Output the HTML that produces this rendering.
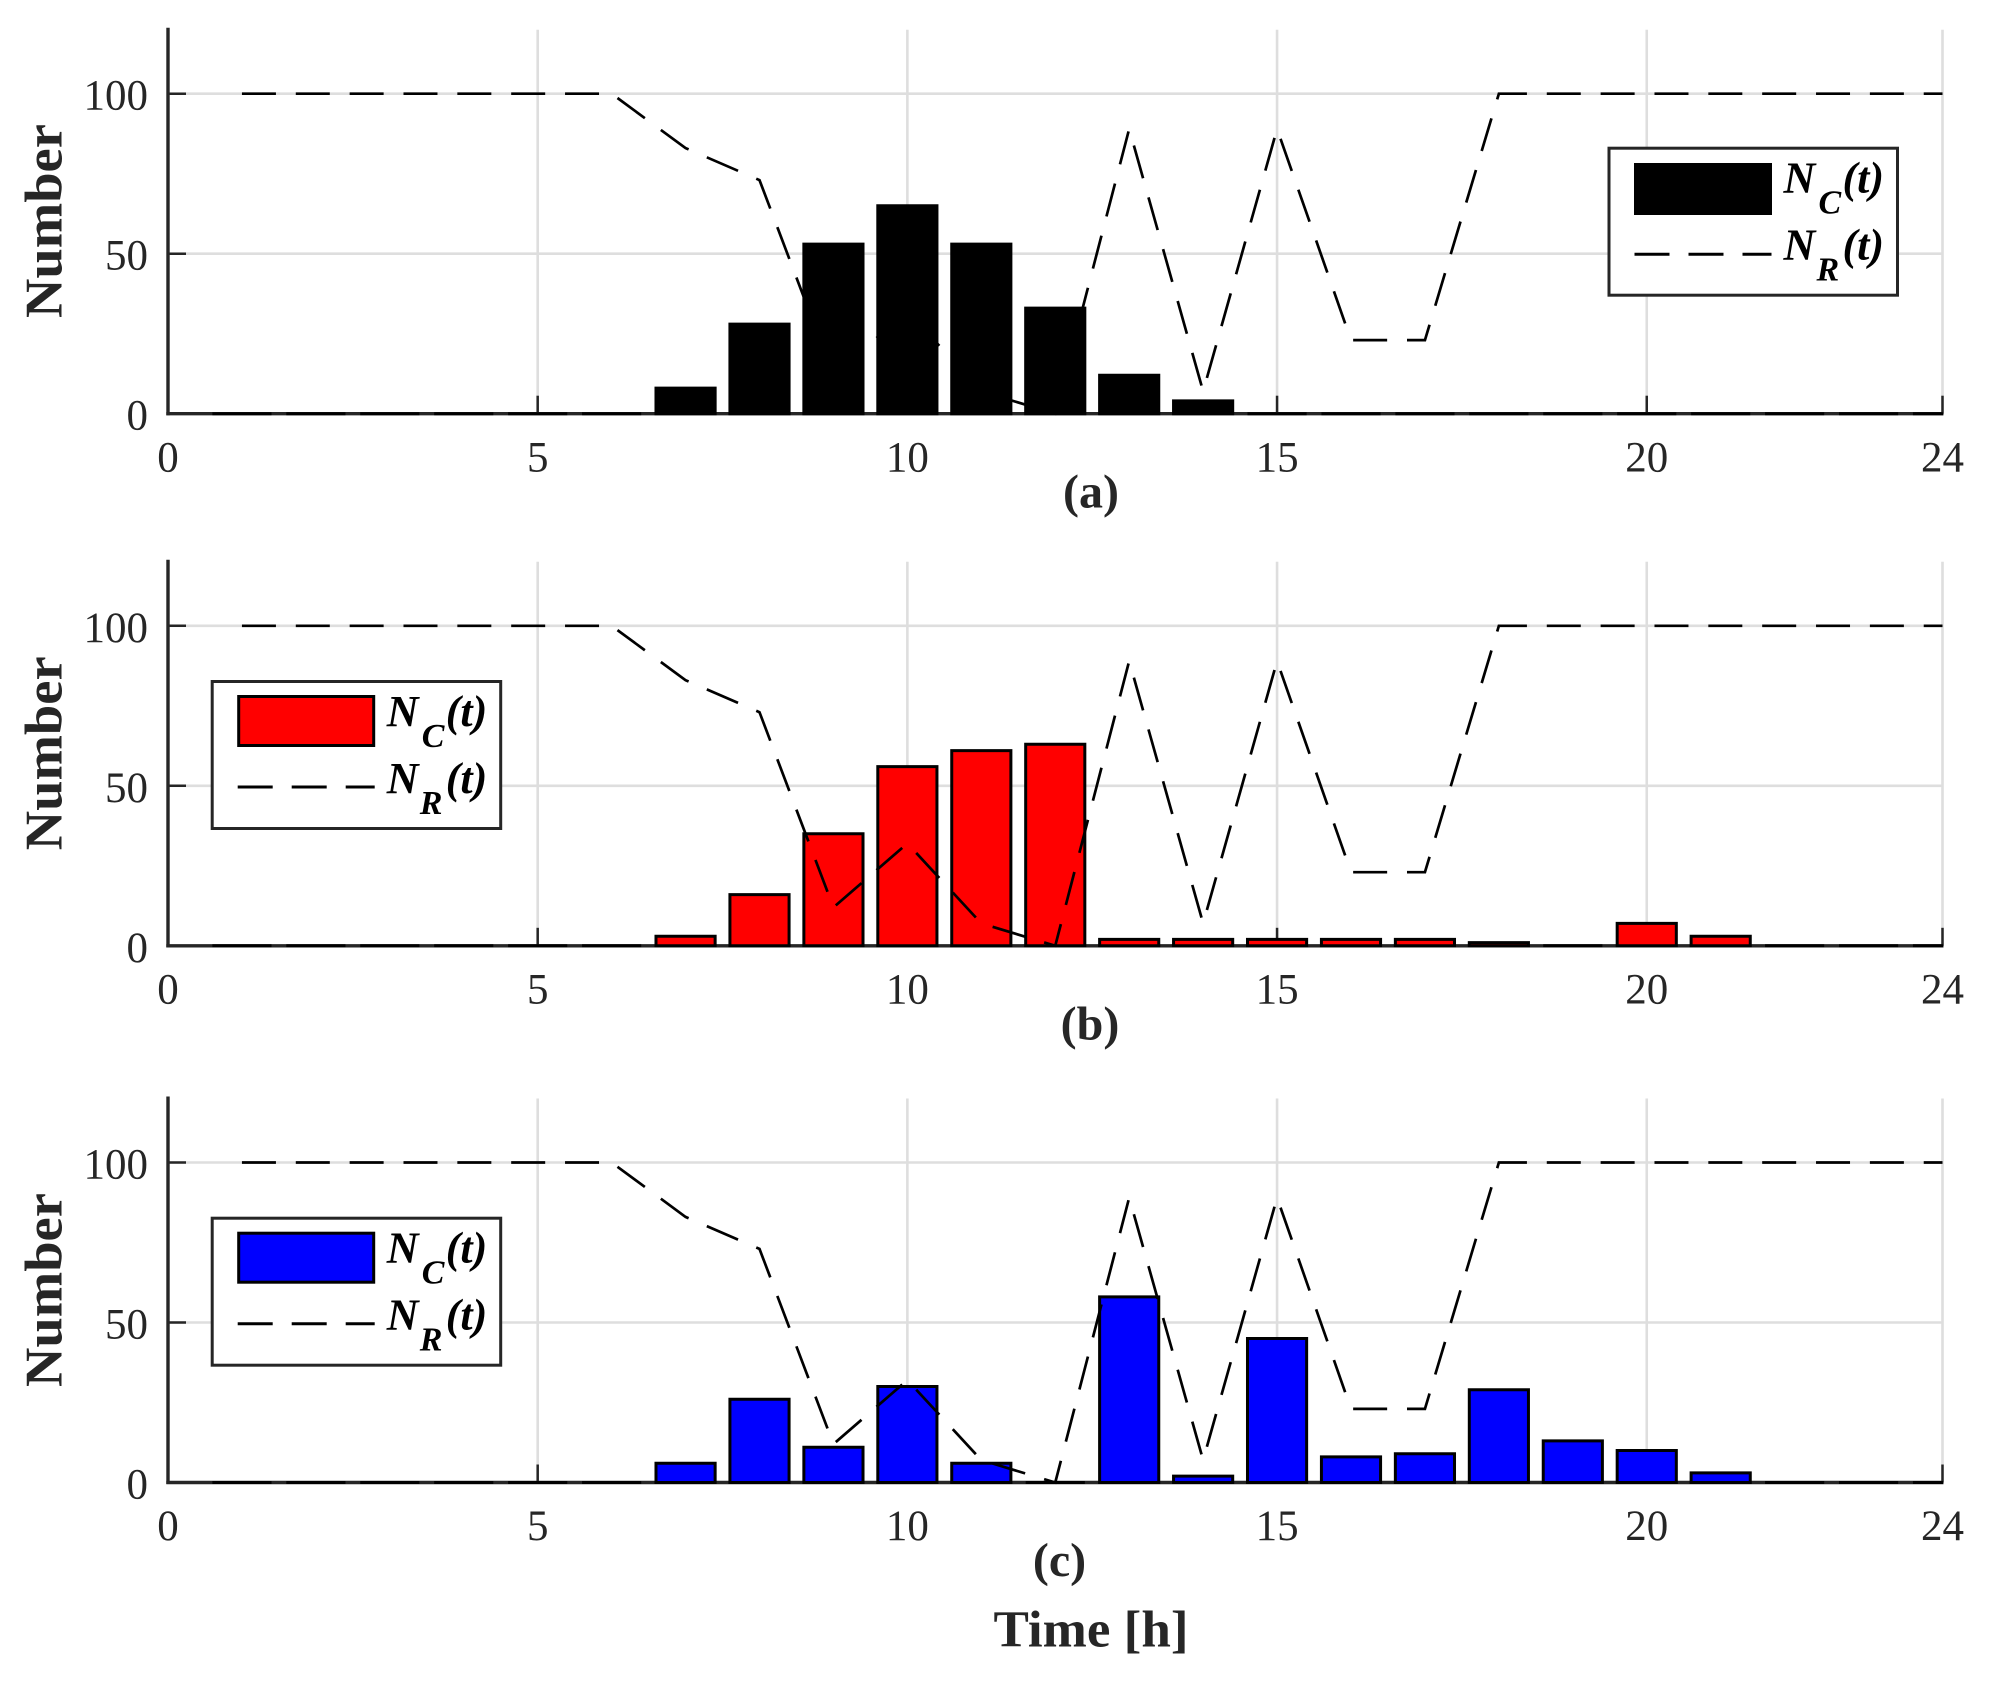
<!DOCTYPE html>
<html lang="en">
<head>
<meta charset="utf-8">
<title>Number of vehicles over time</title>
<style>
html,body{margin:0;padding:0;background:#fff;}
svg{display:block;}
text{font-family:"Liberation Serif","DejaVu Serif",serif;}
.tick{font-size:43px;fill:#262626;}
.ylab{font-size:53px;font-weight:bold;fill:#262626;text-anchor:middle;}
.cap{font-size:48px;font-weight:bold;fill:#262626;text-anchor:middle;}
.leg{font-size:44px;font-weight:bold;font-style:italic;fill:#000;}
.sub{font-size:34px;font-weight:bold;font-style:italic;fill:#000;}
</style>
</head>
<body>
<svg id="figure" xmlns="http://www.w3.org/2000/svg" width="1991" height="1681" viewBox="0 0 1991 1681">
  <rect x="0" y="0" width="1991" height="1681" fill="#fff"/>
  <defs>
    <clipPath id="clip-a"><rect x="166" y="20" width="1777" height="396"/></clipPath>
    <clipPath id="clip-b"><rect x="166" y="552" width="1777" height="396"/></clipPath>
    <clipPath id="clip-c"><rect x="166" y="1089" width="1777" height="396"/></clipPath>
  </defs>

  <g id="panel-a"></g>
  <g id="panel-b"></g>
  <g id="panel-c"></g>

  <text class="ylab" textLength="194" lengthAdjust="spacingAndGlyphs" transform="translate(61.5,221) rotate(-90)">Number</text>
  <text class="ylab" textLength="194" lengthAdjust="spacingAndGlyphs" transform="translate(61.5,753.3) rotate(-90)">Number</text>
  <text class="ylab" textLength="194" lengthAdjust="spacingAndGlyphs" transform="translate(61.5,1290) rotate(-90)">Number</text>

  <text class="cap" x="1091" y="507.5">(a)</text>
  <text class="cap" x="1090" y="1039.3">(b)</text>
  <text class="cap" x="1059.5" y="1576">(c)</text>
  <text x="1091" y="1646.7" font-size="52" font-weight="bold" fill="#262626" text-anchor="middle" textLength="195" lengthAdjust="spacingAndGlyphs">Time [h]</text>

  <g transform="translate(1607.5,146.7)">
    <rect x="1.5" y="1.5" width="288.5" height="147" fill="#fff" stroke="#262626" stroke-width="3"/>
    <rect x="28" y="17.8" width="135" height="49" fill="#000" stroke="#000" stroke-width="3"/>
    <line x1="27" x2="164" y1="107.5" y2="107.5" stroke="#000" stroke-width="3" stroke-dasharray="35 19"/>
    <text><tspan class="leg" x="176" y="46">N</tspan><tspan class="sub" x="211" y="67">C</tspan><tspan class="leg" x="235" y="46">(t)</tspan></text>
    <text><tspan class="leg" x="176" y="113">N</tspan><tspan class="sub" x="209" y="134">R</tspan><tspan class="leg" x="235" y="113">(t)</tspan></text>
  </g>
  <g transform="translate(210.7,680)">
    <rect x="1.5" y="1.5" width="288.5" height="147" fill="#fff" stroke="#262626" stroke-width="3"/>
    <rect x="28" y="16.5" width="135" height="49" fill="#f00" stroke="#000" stroke-width="3"/>
    <line x1="27" x2="164" y1="107" y2="107" stroke="#000" stroke-width="3" stroke-dasharray="35 19"/>
    <text><tspan class="leg" x="176" y="46">N</tspan><tspan class="sub" x="211" y="67">C</tspan><tspan class="leg" x="235" y="46">(t)</tspan></text>
    <text><tspan class="leg" x="176" y="113">N</tspan><tspan class="sub" x="209" y="134">R</tspan><tspan class="leg" x="235" y="113">(t)</tspan></text>
  </g>
  <g transform="translate(210.7,1216.7)">
    <rect x="1.5" y="1.5" width="288.5" height="147" fill="#fff" stroke="#262626" stroke-width="3"/>
    <rect x="28" y="16.5" width="135" height="49" fill="#00f" stroke="#000" stroke-width="3"/>
    <line x1="27" x2="164" y1="107" y2="107" stroke="#000" stroke-width="3" stroke-dasharray="35 19"/>
    <text><tspan class="leg" x="176" y="46">N</tspan><tspan class="sub" x="211" y="67">C</tspan><tspan class="leg" x="235" y="46">(t)</tspan></text>
    <text><tspan class="leg" x="176" y="113">N</tspan><tspan class="sub" x="209" y="134">R</tspan><tspan class="leg" x="235" y="113">(t)</tspan></text>
  </g>
</svg>

<script>
// Chart data (hours 1..24)
var hours = [1,2,3,4,5,6,7,8,9,10,11,12,13,14,15,16,17,18,19,20,21,22,23,24];
var ncA = [0,0,0,0,0,0,8,28,53,65,53,33,12,4,0,0,0,0,0,0,0,0,0,0];
var ncB = [0,0,0,0,0,0,3,16,35,56,61,63,2,2,2,2,2,1,0,7,3,0,0,0];
var ncC = [0,0,0,0,0,0,6,26,11,30,6,0,58,2,45,8,9,29,13,10,3,0,0,0];
var nr = [100,100,100,100,100,100,83,73,12,32,7,0,89,7,89,23,23,100,100,100,100,100,100,100];
var xTicks = [0,5,10,15,20,24];
var yTicks = [0,50,100];
var yGrid = [50,100];
var xGrid = [5,10,15,20,24];

var X_MAX = 24;
var Y_MAX = 120;
var SVG_NS = 'http://www.w3.org/2000/svg';
var PLOT_LEFT = 168;
var PLOT_RIGHT = 1942.5;
var PLOT_HEIGHT = 384;
var BAR_WIDTH = 0.8;

function xScale(h) { return PLOT_LEFT + (PLOT_RIGHT - PLOT_LEFT) * h / X_MAX; }
function yScale(v, base) { return base - PLOT_HEIGHT * v / Y_MAX; }

function mk(tag, parent, attrs) {
  var el = document.createElementNS(SVG_NS, tag);
  for (var k in attrs) { el.setAttribute(k, attrs[k]); }
  parent.appendChild(el);
  return el;
}

function drawPanel(id, clipId, base, values, color) {
  var g = document.getElementById(id);
  var top = yScale(Y_MAX, base);
  var i, el;

  for (i = 0; i < yGrid.length; i++) {
    el = mk('line', g, {x1: PLOT_LEFT, x2: PLOT_RIGHT, y1: yScale(yGrid[i], base), y2: yScale(yGrid[i], base), stroke: '#dedede', 'stroke-width': 2.6});
    
    
  }
  for (i = 0; i < xGrid.length; i++) {
    el = mk('line', g, {x1: xScale(xGrid[i]), x2: xScale(xGrid[i]), y1: top, y2: base, stroke: '#dedede', 'stroke-width': 2.6});
    
    
  }

  for (i = 0; i < yTicks.length; i++) {
    el = mk('line', g, {x1: PLOT_LEFT, x2: PLOT_LEFT + 18, y1: yScale(yTicks[i], base), y2: yScale(yTicks[i], base), stroke: '#262626', 'stroke-width': 2.5});
    
    
    el = mk('text', g, {'class': 'tick', x: 148, y: yScale(yTicks[i], base) + 16, 'text-anchor': 'end'});
    el.textContent = String(yTicks[i]);
    
    
  }
  for (i = 0; i < xTicks.length; i++) {
    el = mk('line', g, {x1: xScale(xTicks[i]), x2: xScale(xTicks[i]), y1: base, y2: base - 18, stroke: '#262626', 'stroke-width': 2.5});
    
    
    el = mk('text', g, {'class': 'tick', x: xScale(xTicks[i]), y: base + 57.7, 'text-anchor': 'middle'});
    el.textContent = String(xTicks[i]);
    
    
  }

  el = mk('line', g, {x1: PLOT_LEFT, x2: PLOT_LEFT, y1: top - 2, y2: base + 1.5, stroke: '#262626', 'stroke-width': 3.4});
  
  
  el = mk('line', g, {x1: PLOT_LEFT - 1.7, x2: PLOT_RIGHT + 1, y1: base, y2: base, stroke: '#262626', 'stroke-width': 3.4});
  
  

  var marks = mk('g', g, {'clip-path': 'url(#' + clipId + ')'});
  
  

  for (i = 0; i < hours.length; i++) {
    var x0 = xScale(hours[i] - BAR_WIDTH / 2);
    var x1 = xScale(hours[i] + BAR_WIDTH / 2);
    var yt = yScale(values[i], base);
    el = mk('path', marks, {d: 'M' + x0 + ' ' + base + 'V' + yt + 'H' + x1 + 'V' + base + 'Z', fill: color, stroke: '#000', 'stroke-width': 3});
    
    
  }

  var pts = [];
  for (i = 0; i < hours.length; i++) {
    pts.push(xScale(hours[i]) + ',' + yScale(nr[i], base));
  }
  el = mk('polyline', marks, {points: pts.join(' '), fill: 'none', stroke: '#000', 'stroke-width': 2.7, 'stroke-dasharray': '34 19.85', 'stroke-linejoin': 'miter'});
  
  
}

drawPanel('panel-a', 'clip-a', 413.7, ncA, '#000');
drawPanel('panel-b', 'clip-b', 945.8, ncB, '#f00');
drawPanel('panel-c', 'clip-c', 1482.5, ncC, '#00f');
</script>
</body>
</html>
